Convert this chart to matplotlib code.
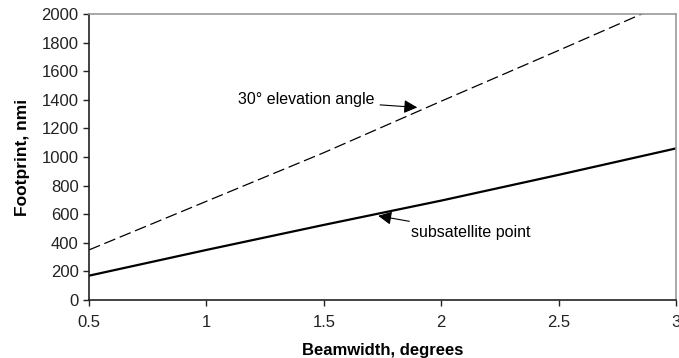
import numpy as np
import matplotlib.pyplot as plt

plt.rcParams['font.family'] = ['Liberation Sans', 'DejaVu Sans']

# beamwidth (degrees) vs footprint (nmi)
beamwidth = [0.5, 1.0, 1.5, 2.0, 2.5, 3.0]
subsatellite = [170, 350, 525, 695, 875, 1060]
elev30 = [350, 690, 1030, 1390, 1745, 2105]

fig = plt.figure(figsize=(6.79, 3.58), dpi=100)
ax = fig.add_axes([0.131, 0.162, 0.8646, 0.799])

ax.plot(beamwidth, elev30, color='black', lw=0.9, linestyle=(0, (9.5, 3.8)))
ax.plot(beamwidth, subsatellite, color='black', lw=1.6)

ax.set_xlim(0.5, 3)
ax.set_ylim(0, 2000)
ax.set_xticks([0.5, 1, 1.5, 2, 2.5, 3])
ax.set_xticklabels(['0.5', '1', '1.5', '2', '2.5', '3'])
ax.set_yticks(np.arange(0, 2001, 200))

for s in ['top', 'right']:
    ax.spines[s].set_color('#999999')
    ax.spines[s].set_linewidth(1.2)
for s in ['left', 'bottom']:
    ax.spines[s].set_color('#222222')
    ax.spines[s].set_linewidth(1.2)
ax.tick_params(direction='out', length=4, width=1, labelsize=12, colors='#222222')
ax.tick_params(axis='x', pad=7)

ax.set_xlabel('Beamwidth, degrees', fontsize=12, fontweight='bold', labelpad=9)
ax.set_ylabel('Footprint, nmi', fontsize=12.5, fontweight='bold', labelpad=8)

arrow = dict(arrowstyle='-|>', color='black', lw=0.8, mutation_scale=20)
ax.annotate('30° elevation angle', xy=(1.91, 1345), xytext=(1.135, 1400),
            fontsize=11.5, va='center', ha='left', arrowprops=arrow)
ax.annotate('subsatellite point', xy=(1.72, 592), xytext=(1.87, 475),
            fontsize=11.5, va='center', ha='left', arrowprops=arrow)

fig.savefig('out.png', dpi=100)
